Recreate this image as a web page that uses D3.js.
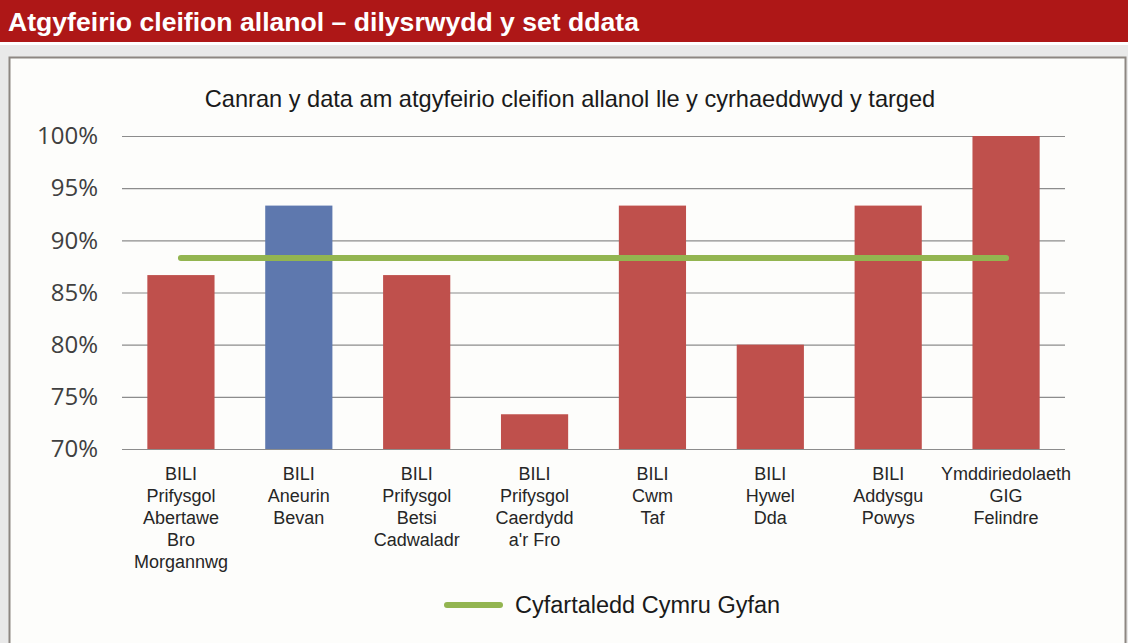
<!DOCTYPE html>
<html>
<head>
<meta charset="utf-8">
<script src="https://cdn.jsdelivr.net/npm/d3@7"></script>
<style>
  body { margin: 0; background: #e9e9e9; overflow: hidden; }
  svg { display: block; }
</style>
</head>
<body>
<div id="chart"></div>
<script>
// data
var categories = [
    ['BILI', 'Prifysgol', 'Abertawe', 'Bro', 'Morgannwg'],
    ['BILI', 'Aneurin', 'Bevan'],
    ['BILI', 'Prifysgol', 'Betsi', 'Cadwaladr'],
    ['BILI', 'Prifysgol', 'Caerdydd', "a'r Fro"],
    ['BILI', 'Cwm', 'Taf'],
    ['BILI', 'Hywel', 'Dda'],
    ['BILI', 'Addysgu', 'Powys'],
    ['Ymddiriedolaeth', 'GIG', 'Felindre']
];
var values = [86.67, 93.33, 86.67, 73.33, 93.33, 80, 93.33, 100];
var highlight = [false, true, false, false, false, false, false, false];
var walesAverage = 88.3;
var yTicks = [70, 75, 80, 85, 90, 95, 100];

var W = 1128, H = 643;
var margin = {top: 136, left: 122, right: 63, bottom: 194},
    width = W - margin.left - margin.right,
    height = H - margin.top - margin.bottom;

var svg = d3.select('#chart').append('svg')
    .attr('width', W)
    .attr('height', H);

// header band
svg.append('rect').attr('x', 0).attr('y', 0).attr('width', W).attr('height', 42).attr('fill', '#ae1717');
svg.append('rect').attr('x', 0).attr('y', 42).attr('width', W).attr('height', 3).attr('fill', '#ffffff');
svg.append('text')
    .attr('x', 8).attr('y', 31)
    .attr('fill', '#fff')
    .style('font', 'bold 26.6px "Liberation Sans", Arial, sans-serif')
    .text('Atgyfeirio cleifion allanol – dilysrwydd y set ddata');

// chart frame
svg.append('rect')
    .attr('x', 9.5).attr('y', 57.5).attr('width', 1116).attr('height', 600)
    .attr('fill', '#fdfdfb')
    .attr('stroke', '#8d8782').attr('stroke-width', 2);

var g = svg.append('g').attr('transform', 'translate(' + margin.left + ',' + margin.top + ')');

var x = d3.scaleBand().domain(d3.range(categories.length)).range([0, width]).paddingInner(0.43).paddingOuter(0.215);
var y = d3.scaleLinear().domain([70, 100]).range([height, 0]);

var yAxis = d3.axisLeft(y).tickValues(yTicks).tickSize(-width).tickFormat(function(d) { return d + '%'; });

g.append('g')
    .attr('class', 'y axis')
    .call(yAxis)
    .call(function(a) {
        a.select('.domain').remove();
        a.selectAll('line').attr('stroke', '#8c8c8c').attr('stroke-width', 1.2);
        a.selectAll('text')
            .attr('x', -24)
            .attr('fill', '#404040')
            .style('font', '24px "Open Sans", sans-serif');
    });

g.selectAll('rect.bar')
    .data(values)
    .enter().append('rect')
    .attr('class', 'bar')
    .attr('x', function(d, i) { return x(i); })
    .attr('y', function(d) { return y(d); })
    .attr('width', x.bandwidth())
    .attr('height', function(d) { return height - y(d); })
    .attr('fill', function(d, i) { return highlight[i] ? '#5e78ae' : '#bf504c'; });

// all-Wales average line
var first = 0, last = categories.length - 1;
g.append('line')
    .attr('x1', x(first) + x.bandwidth() / 2)
    .attr('x2', x(last) + x.bandwidth() / 2)
    .attr('y1', y(walesAverage))
    .attr('y2', y(walesAverage))
    .attr('stroke', '#93b550')
    .attr('stroke-width', 6)
    .attr('stroke-linecap', 'round');

// category labels
var labels = g.selectAll('text.cat')
    .data(categories)
    .enter().append('text')
    .attr('class', 'cat')
    .attr('text-anchor', 'middle')
    .attr('fill', '#262626')
    .style('font', '18px "Liberation Sans", Arial, sans-serif')
    .attr('transform', function(d, i) { return 'translate(' + (x(i) + x.bandwidth() / 2) + ',' + (height + 31) + ')'; });

labels.selectAll('tspan')
    .data(function(d) { return d; })
    .enter().append('tspan')
    .attr('x', 0)
    .attr('dy', function(d, i) { return i == 0 ? 0 : 22; })
    .text(function(d) { return d; });

// chart title
svg.append('text')
    .attr('x', 570).attr('y', 107)
    .attr('text-anchor', 'middle')
    .attr('fill', '#1a1a1a')
    .style('font', '23.6px "Liberation Sans", Arial, sans-serif')
    .text('Canran y data am atgyfeirio cleifion allanol lle y cyrhaeddwyd y targed');

// legend
var legend = svg.append('g').attr('transform', 'translate(445,605)');
legend.append('line')
    .attr('x1', 2).attr('x2', 55)
    .attr('stroke', '#93b550').attr('stroke-width', 6).attr('stroke-linecap', 'round');
legend.append('text')
    .attr('x', 70).attr('y', 8)
    .attr('fill', '#1a1a1a')
    .style('font', '23.5px "Liberation Sans", Arial, sans-serif')
    .text('Cyfartaledd Cymru Gyfan');
</script>
</body>
</html>
